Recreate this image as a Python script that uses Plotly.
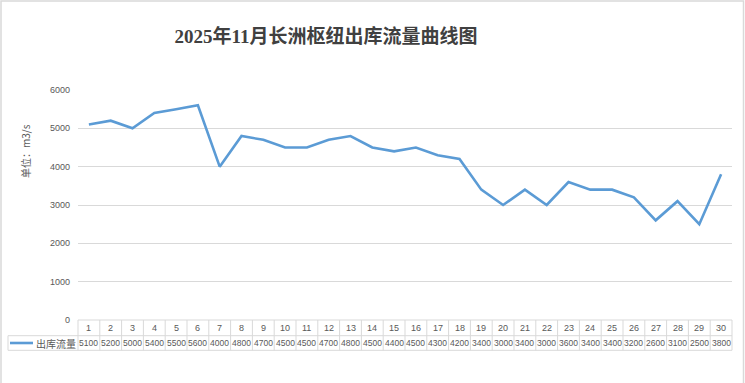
import plotly.graph_objects as go

days = list(range(1, 31))
flow = [5100, 5200, 5000, 5400, 5500, 5600, 4000, 4800, 4700, 4500,
        4500, 4700, 4800, 4500, 4400, 4500, 4300, 4200, 3400, 3000,
        3400, 3000, 3600, 3400, 3400, 3200, 2600, 3100, 2500, 3800]
series_name = "出库流量"
title_text = "2025年11月长洲枢纽出库流量曲线图"
y_title = "单位：m3/s"
y_ticks = [0, 1000, 2000, 3000, 4000, 5000, 6000]

W, H = 745, 383
ML, MR, MT, MB = 78, 13, 90, 63
PW = W - ML - MR
PH = H - MT - MB

def px(x):
    return (x - ML) / PW

def py(y):
    return (H - MB - y) / PH

LINE = "#5B9BD5"
GRID = "#D9D9D9"
TXT = "#595959"
SANS = "Liberation Sans, Noto Sans CJK SC, sans-serif"

fig = go.Figure()
fig.add_trace(go.Scatter(x=days, y=flow, mode="lines", name=series_name,
                         line=dict(color=LINE, width=2.6), showlegend=False))

shapes = []
annotations = []

row1_top, row1_bot, row2_bot = 320, 335.7, 350.3
n = len(days)
shapes.append(dict(type="line", xref="paper", yref="paper", x0=0, x1=1,
                   y0=py(row1_top), y1=py(row1_top), line=dict(color=GRID, width=1)))
shapes.append(dict(type="line", xref="paper", yref="paper", x0=px(8), x1=1,
                   y0=py(row1_bot), y1=py(row1_bot), line=dict(color=GRID, width=1)))
shapes.append(dict(type="line", xref="paper", yref="paper", x0=px(8), x1=1,
                   y0=py(row2_bot), y1=py(row2_bot), line=dict(color=GRID, width=1)))
for i in range(n + 1):
    shapes.append(dict(type="line", xref="paper", yref="paper", x0=i / n, x1=i / n,
                       y0=py(row1_top), y1=py(row2_bot), line=dict(color=GRID, width=1)))
shapes.append(dict(type="line", xref="paper", yref="paper", x0=px(8), x1=px(8),
                   y0=py(row1_bot), y1=py(row2_bot), line=dict(color=GRID, width=1)))
shapes.append(dict(type="line", xref="paper", yref="paper", x0=px(10), x1=px(33),
                   y0=py(343), y1=py(343), line=dict(color=LINE, width=2.6)))
annotations.append(dict(text=series_name, xref="paper", yref="paper", x=px(55.5), y=py(343),
                        xanchor="center", yanchor="middle",
                        showarrow=False, font=dict(family="Noto Sans CJK SC", size=10, color=TXT)))
shapes.append(dict(type="rect", xref="paper", yref="paper", x0=px(1), x1=px(743.5),
                   y0=py(386), y1=py(1), line=dict(color=GRID, width=1.5)))

for d, v in zip(days, flow):
    annotations.append(dict(text=str(d), xref="x", yref="paper", x=d, y=py((row1_top + row1_bot) / 2),
                            xanchor="center", yanchor="middle",
                            showarrow=False, font=dict(family=SANS, size=9, color=TXT)))
    annotations.append(dict(text=str(v), xref="x", yref="paper", x=d, y=py((row1_bot + row2_bot) / 2),
                            xanchor="center", yanchor="middle",
                            showarrow=False, font=dict(family=SANS, size=8.5, color=TXT)))

annotations.append(dict(text=y_title, xref="paper", yref="paper", x=px(25), y=py(151),
                        xanchor="center", yanchor="middle",
                        textangle=-90, showarrow=False,
                        font=dict(family="Noto Sans CJK SC", size=10, color=TXT)))

fig.update_layout(
    width=W, height=H,
    margin=dict(l=ML, r=MR, t=MT, b=MB),
    paper_bgcolor="white", plot_bgcolor="white",
    title=dict(text=title_text, xref="container", yref="container",
               x=326 / W, y=1 - 36 / H, xanchor="center", yanchor="middle",
               font=dict(family="Liberation Serif, Noto Sans CJK SC, serif", size=19,
                         color="#404040", weight="bold")),
    xaxis=dict(range=[0.5, n + 0.5], showgrid=False, zeroline=False,
               showticklabels=False, showline=False, fixedrange=True),
    yaxis=dict(range=[0, 6000], tickvals=y_ticks, showgrid=True, gridcolor=GRID, gridwidth=1,
               zeroline=False, showline=False, ticklabelstandoff=7,
               tickfont=dict(family=SANS, size=9, color=TXT)),
    shapes=shapes, annotations=annotations,
)

fig.write_html("out.html", config={"displayModeBar": False},
               post_script="document.body.style.margin='0';document.body.style.overflow='hidden';")
